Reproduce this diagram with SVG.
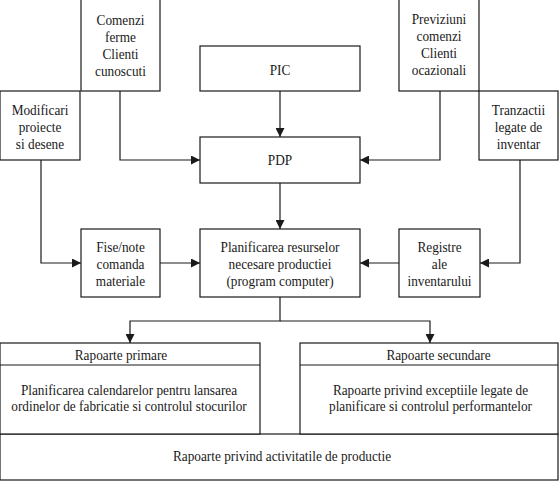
<svg xmlns="http://www.w3.org/2000/svg" width="559" height="481" viewBox="0 0 559 481">
<defs>
<style>
.b{fill:#fff;stroke:#1a1a1a;stroke-width:1.2}
.t{font-family:'Liberation Serif','DejaVu Serif',serif;font-size:15px;fill:#1a1a1a;text-anchor:middle}
.c{fill:none;stroke:#1a1a1a;stroke-width:1.2}
</style>
<marker id="a" viewBox="0 0 10 10" refX="10" refY="5" markerWidth="9" markerHeight="9" markerUnits="userSpaceOnUse" orient="auto">
<path d="M0,0 L10,5 L0,10 z" fill="#1a1a1a"/>
</marker>
</defs>
<rect width="559" height="481" fill="#fff"/>
<g id="conn">
<path class="c" d="M120,91 V160 H200" marker-end="url(#a)"/>
<path class="c" d="M440,91 V160 H360" marker-end="url(#a)"/>
<path class="c" d="M280,91 V137" marker-end="url(#a)"/>
<path class="c" d="M280,183 V229" marker-end="url(#a)"/>
<path class="c" d="M41,160 V263 H81" marker-end="url(#a)"/>
<path class="c" d="M520,160 V263 H480" marker-end="url(#a)"/>
<path class="c" d="M160,263 H200" marker-end="url(#a)"/>
<path class="c" d="M399,263 H360" marker-end="url(#a)"/>
<path class="c" d="M280,297 V321 H130 V343" marker-end="url(#a)"/>
<path class="c" d="M280,321 H430 V343" marker-end="url(#a)"/>
</g>
<g id="comenzi"><rect class="b" x="81" y="-1" width="79" height="92"/>
<text class="t" transform="translate(120.5,25) scale(0.885,1)">Comenzi</text><text class="t" transform="translate(120.5,42) scale(0.885,1)">ferme</text><text class="t" transform="translate(120.5,59) scale(0.885,1)">Clienti</text><text class="t" transform="translate(120.5,76) scale(0.885,1)">cunoscuti</text></g>
<g id="previziuni"><rect class="b" x="399" y="-1" width="80" height="92"/>
<text class="t" transform="translate(439,24) scale(0.885,1)">Previziuni</text><text class="t" transform="translate(439,41) scale(0.885,1)">comenzi</text><text class="t" transform="translate(439,58) scale(0.885,1)">Clienti</text><text class="t" transform="translate(439,75) scale(0.885,1)">ocazionali</text></g>
<g id="modificari"><rect class="b" x="0" y="91" width="80" height="69"/>
<text class="t" transform="translate(40,115) scale(0.885,1)">Modificari</text><text class="t" transform="translate(40,132) scale(0.885,1)">proiecte</text><text class="t" transform="translate(40,149) scale(0.885,1)">si desene</text></g>
<g id="tranzactii"><rect class="b" x="479" y="91" width="79" height="69"/>
<text class="t" transform="translate(518.5,115) scale(0.885,1)">Tranzactii</text><text class="t" transform="translate(518.5,132) scale(0.885,1)">legate de</text><text class="t" transform="translate(518.5,149) scale(0.885,1)">inventar</text></g>
<g id="pic"><rect class="b" x="200" y="46" width="160" height="45"/>
<text class="t" transform="translate(280,75) scale(0.885,1)">PIC</text></g>
<g id="pdp"><rect class="b" x="200" y="137" width="160" height="46"/>
<text class="t" transform="translate(280,165) scale(0.885,1)">PDP</text></g>
<g id="fise"><rect class="b" x="81" y="229" width="79" height="68"/>
<text class="t" transform="translate(120.5,252) scale(0.885,1)">Fise/note</text><text class="t" transform="translate(120.5,269) scale(0.885,1)">comanda</text><text class="t" transform="translate(120.5,286) scale(0.885,1)">materiale</text></g>
<g id="planificarea"><rect class="b" x="200" y="229" width="160" height="68"/>
<text class="t" transform="translate(280,252) scale(0.885,1)">Planificarea resurselor</text><text class="t" transform="translate(280,269) scale(0.885,1)">necesare productiei</text><text class="t" transform="translate(280,286) scale(0.885,1)">(program computer)</text></g>
<g id="registre"><rect class="b" x="399" y="229" width="81" height="68"/>
<text class="t" transform="translate(439.5,252) scale(0.885,1)">Registre</text><text class="t" transform="translate(439.5,269) scale(0.885,1)">ale</text><text class="t" transform="translate(439.5,286) scale(0.885,1)">inventarului</text></g>
<g id="activitati"><rect class="b" x="0" y="434" width="558" height="46"/>
<text class="t" transform="translate(282,461) scale(0.885,1)">Rapoarte privind activitatile de productie</text></g>
<g id="primare"><rect class="b" x="0" y="343" width="260" height="91"/>
<line class="c" x1="0" y1="365" x2="260" y2="365"/>
<text class="t" transform="translate(121,360) scale(0.885,1)">Rapoarte primare</text>
<text class="t" transform="translate(129,395) scale(0.885,1)">Planificarea calendarelor pentru lansarea</text><text class="t" transform="translate(129,411) scale(0.885,1)">ordinelor de fabricatie si controlul stocurilor</text></g>
<g id="secundare"><rect class="b" x="300" y="343" width="258" height="91"/>
<line class="c" x1="300" y1="365" x2="558" y2="365"/>
<text class="t" transform="translate(438.5,360) scale(0.885,1)">Rapoarte secundare</text>
<text class="t" transform="translate(430.5,395) scale(0.885,1)">Rapoarte privind exceptiile legate de</text><text class="t" transform="translate(430.5,411) scale(0.885,1)">planificare si controlul performantelor</text></g>
</svg>
